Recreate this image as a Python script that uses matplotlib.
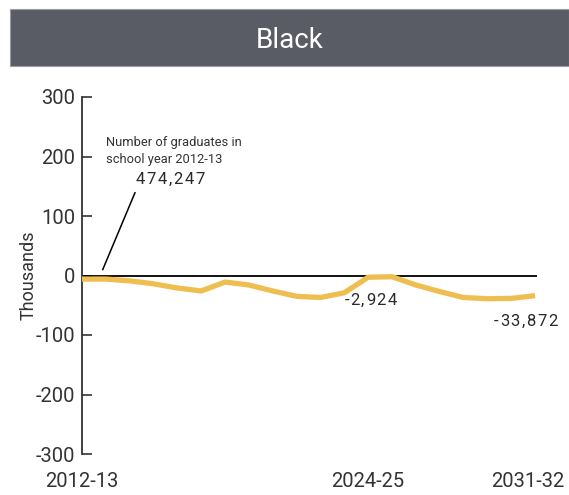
import matplotlib
matplotlib.use("Agg")
import matplotlib.pyplot as plt
from matplotlib.patches import Rectangle
from matplotlib.transforms import ScaledTranslation
from matplotlib.font_manager import FontProperties, findfont
from matplotlib.ft2font import FT2Font

plt.rcParams['font.family'] = ['Roboto', 'DejaVu Sans']
plt.rcParams['axes.unicode_minus'] = False

# Change in number of graduates vs. 2012-13 (thousands)
years = ["2012-13", "2013-14", "2014-15", "2015-16", "2016-17", "2017-18",
         "2018-19", "2019-20", "2020-21", "2021-22", "2022-23", "2023-24",
         "2024-25", "2025-26", "2026-27", "2027-28", "2028-29", "2029-30",
         "2030-31", "2031-32"]
change = [-6, -6, -9, -14, -21, -26, -11, -16, -26, -35, -37, -29,
          -2.924, -2, -16, -27, -37, -39, -38.5, -33.872]
tick_years = ["2012-13", "2024-25", "2031-32"]
base_count = "474,247"
panel_title = "Black"

W, H = 569, 495
DPI = 100
fig = plt.figure(figsize=(W / DPI, H / DPI), dpi=DPI)


def spaced_text(ax, x, y, s, size, spacing_px, color="#2a2a2a"):
    """Draw a string centred at (x, y) with extra tracking between glyphs."""
    fp = FontProperties(family="Roboto", size=size)
    font = FT2Font(findfont(fp))
    font.set_size(size, DPI)
    advs = [font.load_char(ord(c)).linearHoriAdvance / 65536.0 for c in s]
    total = sum(advs) + spacing_px * (len(s) - 1)
    pos = -total / 2.0
    for c, a in zip(s, advs):
        tr = ax.transData + ScaledTranslation(pos / DPI, 0, fig.dpi_scale_trans)
        ax.text(x, y, c, fontproperties=fp, color=color, ha="left",
                va="center", transform=tr)
        pos += a + spacing_px


# header bar
fig.patches.append(Rectangle((10 / W, (H - 66) / H), (W - 10) / W, 57 / H,
                             transform=fig.transFigure, facecolor="#595C65",
                             edgecolor="#9a9ca0", linewidth=0.8))
fig.text(290 / W, (H - 40) / H, panel_title, color="white", fontsize=20,
         ha="center", va="center")

ax = fig.add_axes([82 / W, (H - 454) / H, 455 / W, 357 / H])
x = list(range(len(years)))
ax.plot(x, change, color="#EFBE50", linewidth=3.8, solid_capstyle="butt",
        solid_joinstyle="round", zorder=3)
ax.axhline(0, color="black", linewidth=1.3, zorder=2)

ax.set_xlim(0, 19.08)
ax.set_ylim(-300, 300)
ax.set_yticks([-300, -200, -100, 0, 100, 200, 300])
ax.tick_params(axis="y", direction="in", length=7.5, width=1.2, colors="#333333",
               labelsize=14.5, pad=5)
ax.set_xticks([years.index(t) for t in tick_years])
ax.set_xticklabels(tick_years)
ax.tick_params(axis="x", length=0, labelsize=14.5, colors="#333333", pad=13)
for s in ["top", "right", "bottom"]:
    ax.spines[s].set_visible(False)
ax.spines["left"].set_color("#333333")
ax.spines["left"].set_linewidth(1.3)
last = ax.get_xticklabels()[-1]
last.set_transform(last.get_transform() + ScaledTranslation(-0.07, 0, fig.dpi_scale_trans))

ax.set_ylabel("Thousands", fontsize=13, color="#333333")
ax.yaxis.set_label_coords(-44 / 455, 0.5)

# annotation for the base year
ax.plot([0.87, 2.22], [10, 139], color="black", linewidth=1.1, zorder=4)
ax.text(1.0, 224, "Number of graduates in", fontsize=9.3, color="#333333",
        ha="left", va="center")
ax.text(1.0, 195, "school year 2012-13", fontsize=9.3, color="#333333",
        ha="left", va="center")
spaced_text(ax, 3.69, 161, base_count, 12, 1.6)

spaced_text(ax, 12.1, -42, f"{change[12] * 1000:,.0f}", 12, 1.4)
spaced_text(ax, 18.6, -77, f"{change[19] * 1000:,.0f}", 12, 1.5)

fig.savefig("out.png", dpi=DPI)
